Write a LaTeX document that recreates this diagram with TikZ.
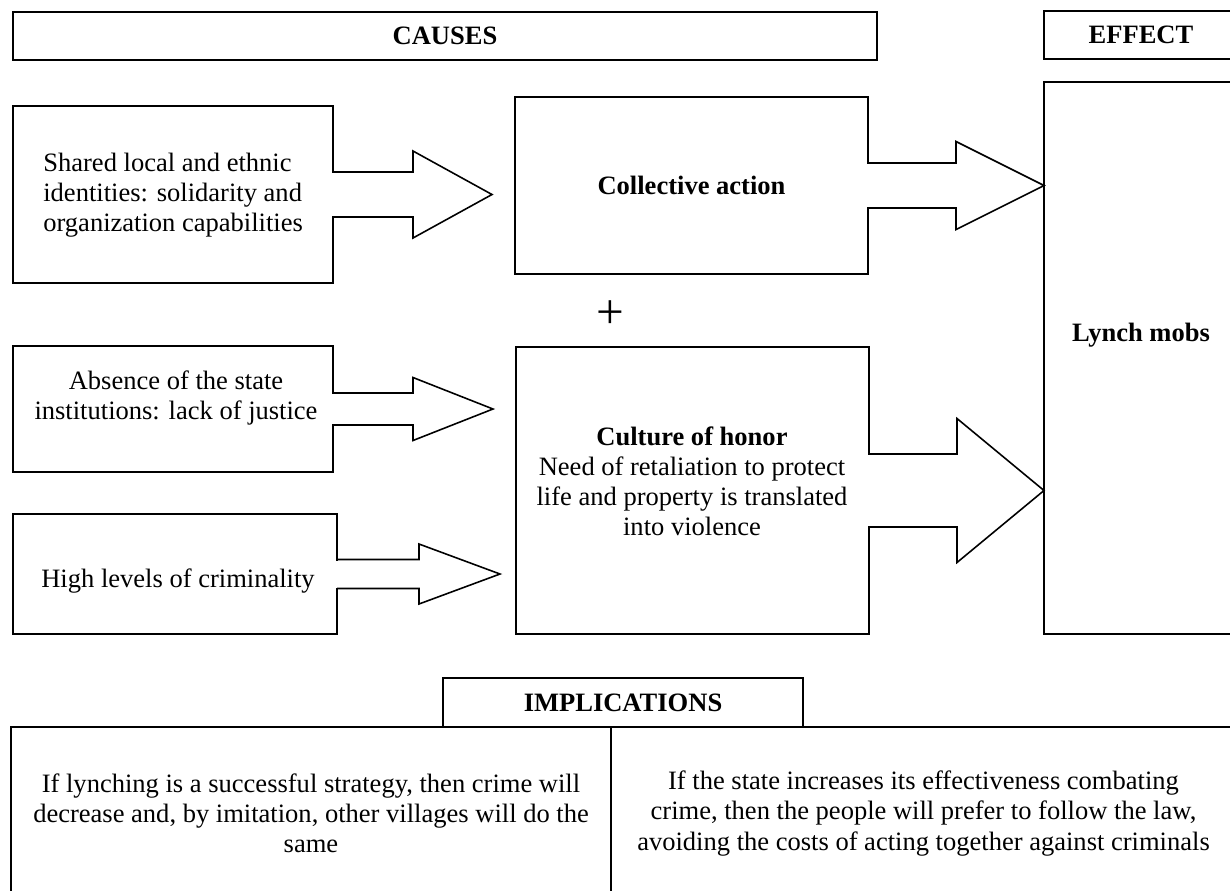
\documentclass[tikz,border=0pt]{standalone}
\usepackage{fontspec}
\setmainfont{Liberation Serif}
\usetikzlibrary{calc}

\newlength{\unitpx}
\setlength{\unitpx}{0.02cm}

\tikzstyle{box} = [rectangle, draw, line width=0.9pt, outer sep=0pt, inner sep=0pt, align=center]
\tikzstyle{txt} = [inner sep=0pt, align=center]
\tikzstyle{boxline} = [draw, line width=0.9pt, line join=miter]
\tikzset{wh/.style 2 args={minimum width=#1*\unitpx, minimum height=#2*\unitpx}}

% block arrow: source, target, gap, shaft half width, head half width, head length
\newcommand{\fatarrow}[6]{%
  \coordinate (fa-s) at (#1.east);
  \coordinate (fa-t) at ($(#2.west |- #1.east)+(-#3,0)$);
  \fill[white] ($(fa-s)+(-3,-#4+1)$) rectangle ($(fa-s)+(3,#4-1)$);
  \path[boxline] ($(fa-s)+(0,-#4)$) -- ($(fa-t)+(-#6,-#4)$) -- ($(fa-t)+(-#6,-#5)$) -- (fa-t)
    -- ($(fa-t)+(-#6,#5)$) -- ($(fa-t)+(-#6,#4)$) -- ($(fa-s)+(0,#4)$);
}

\begin{document}
\fontsize{15.1}{17.1}\selectfont
\begin{tikzpicture}[x=0.02cm, y=-0.02cm]
        \useasboundingbox (0,0) rectangle (1230,890);
        \clip (0,0) rectangle (1230,890);

        % Headers
        \node [box, wh={864}{48}] (causes) at (445,36) {\textbf{CAUSES}};
        \node [box, wh={194}{48}] (effect) at (1141,35) {\textbf{EFFECT}};

        % Causes
        \node [box, wh={320}{177}] (shared) at (173,194.5) {};
        \node [txt, align=left, anchor=west] (shared-txt) at (43,195) {Shared local and ethnic\\identities: solidarity and\\organization capabilities};
        \node [box, wh={320}{126}] (absence) at (173,409) {};
        \node [txt] (absence-txt) at (176,398) {Absence of the state\\institutions: lack of justice};
        \node [box, wh={324}{120}] (crime) at (175,574) {};
        \node [txt] (crime-txt) at (178,581) {High levels of criminality};

        \node [box, wh={353}{177}] (collective) at (691.5,185.5) {\textbf{Collective action}};
        \node [txt, font=\fontsize{28}{28}\selectfont] (plus) at (610,315) {+};
        \node [box, wh={353}{287}] (honor) at (692.5,490.5) {};
        \node [txt] (honor-txt) at (692,481) {\textbf{Culture of honor}\\Need of retaliation to protect\\life and property is translated\\into violence};

        % Effect
        \node [box, wh={194}{552}] (mobs) at (1141,358) {};
        \node [txt] (mobs-txt) at (1141,335) {\textbf{Lynch mobs}};

        % Block arrows
        \fatarrow{shared}{collective}{23}{22.5}{43.5}{79}
        \fatarrow{absence}{honor}{23}{16}{31.5}{80}
        \fatarrow{crime}{honor}{16}{14.5}{30}{81}
        \fatarrow{collective}{mobs}{0}{22.5}{44}{88}
        \fatarrow{honor}{mobs}{0}{36.5}{72}{87}

        % Implications
        \node [box, wh={360}{49}] (implications) at (623,702.5) {\textbf{IMPLICATIONS}};
        \node [box, wh={600}{173}] (implleft) at (311,813.5) {If lynching is a successful strategy, then crime will\\decrease and, by imitation, other villages will do the\\same};
        \node [box, wh={625}{173}] (implright) at (923.5,813.5) {If the state increases its effectiveness combating\\crime, then the people will prefer to follow the law,\\avoiding the costs of acting together against criminals};
    \end{tikzpicture}
\end{document}
